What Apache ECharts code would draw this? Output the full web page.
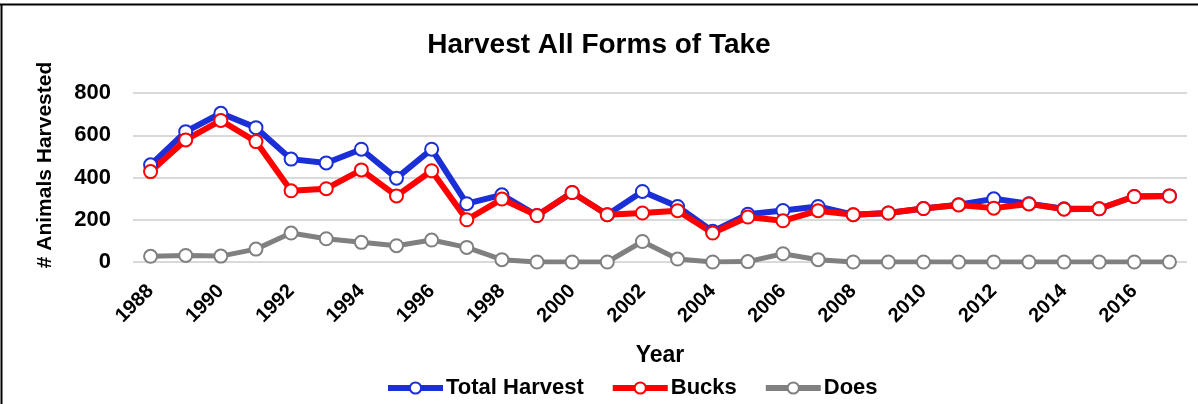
<!DOCTYPE html>
<html>
<head>
<meta charset="utf-8">
<script src="https://cdn.jsdelivr.net/npm/echarts@6/dist/echarts.min.js"></script>
<style>
html,body{margin:0;padding:0;background:#fff;}
#chart{width:1198px;height:404px;}
</style>
</head>
<body>
<div id="chart"></div>
<script>
const years = ['1988','1989','1990','1991','1992','1993','1994','1995','1996','1997','1998','1999','2000','2001','2002','2003','2004','2005','2006','2007','2008','2009','2010','2011','2012','2013','2014','2015','2016','2017'];
const totalHarvest = [460,617,704,636,487,469,534,397,534,276,318,220,329,224,334,263,145,226,244,263,224,232,253,271,299,276,252,252,310,313];
const bucks = [428,578,670,570,337,347,436,313,432,200,298,220,329,224,232,243,137,213,195,243,224,232,253,270,255,275,250,252,310,313];
const does = [27,31,28,61,137,110,93,77,104,69,11,0,0,0,97,14,0,2,39,11,0,0,0,0,0,0,0,0,0,0];
const yTicks = [0,200,400,600,800];

const FONT = '"Liberation Sans", Arial, sans-serif';
const chart = echarts.init(document.getElementById('chart'), null, {renderer:'canvas'});

function lineSeries(name, data, color, width) {
  return {
    name: name,
    type: 'line',
    data: data,
    color: color,
    symbol: 'emptyCircle',
    symbolSize: 13,
    lineStyle: {color: color, width: width},
    itemStyle: {color: color, borderWidth: 2},
    emphasis: {disabled: true},
    animation: false
  };
}

chart.setOption({
  backgroundColor: '#fff',
  animation: false,
  title: {
    text: 'Harvest All Forms of Take',
    left: 'center',
    top: 31,
    padding: 0,
    textStyle: {fontFamily: FONT, fontWeight: 'bold', fontSize: 28, color: '#000'}
  },
  legend: {
    left: 380,
    top: 372,
    itemWidth: 55,
    itemHeight: 14,
    itemGap: 26,
    lineStyle: {width: 6},
    textStyle: {fontFamily: FONT, fontWeight: 'bold', fontSize: 22, color: '#000', padding: [0, 0, 0, -2]},
    data: ['Total Harvest','Bucks','Does']
  },
  grid: {left: 133, right: 11, top: 93, bottom: 142, containLabel: false},
  xAxis: {
    type: 'category',
    data: years,
    boundaryGap: true,
    name: 'Year',
    nameLocation: 'middle',
    nameGap: 82,
    nameTextStyle: {fontFamily: FONT, fontWeight: 'bold', fontSize: 23, color: '#000'},
    axisLine: {show: false},
    axisTick: {show: false},
    axisLabel: {
      interval: 1,
      rotate: 45,
      margin: 26,
      fontFamily: FONT, fontWeight: 'bold', fontSize: 20, color: '#000'
    },
    splitLine: {show: false}
  },
  yAxis: {
    type: 'value',
    min: yTicks[0],
    max: yTicks[yTicks.length-1],
    interval: 200,
    axisLine: {show: false},
    axisTick: {show: false},
    axisLabel: {margin: 22, fontFamily: FONT, fontWeight: 'bold', fontSize: 22, color: '#000'},
    splitLine: {lineStyle: {color: '#d9d9d9', width: 2}}
  },
  graphic: [
    {type: 'text', x: 45, y: 165, rotation: Math.PI/2,
     style: {text: '# Animals Harvested', font: 'bold 21px ' + FONT, fill: '#000', align: 'center', verticalAlign: 'middle'}},
    {type: 'line', shape: {x1: 0, y1: 4.5, x2: 1198, y2: 4.5}, style: {stroke: '#000', lineWidth: 2}},
    {type: 'line', shape: {x1: 1.5, y1: 4, x2: 1.5, y2: 404}, style: {stroke: '#000', lineWidth: 2}}
  ],
  series: [
    lineSeries('Total Harvest', totalHarvest, '#1a2fd6', 6),
    lineSeries('Bucks', bucks, '#ff0000', 6),
    lineSeries('Does', does, '#808080', 5)
  ]
});
</script>
</body>
</html>
